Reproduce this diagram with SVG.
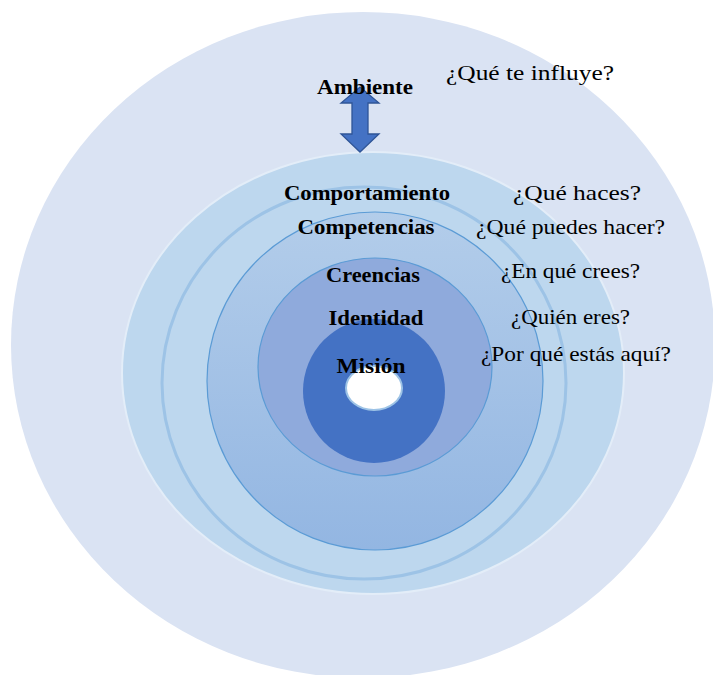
<svg xmlns="http://www.w3.org/2000/svg" width="713" height="675" viewBox="0 0 713 675">
<style>
.lbl{font-family:"Liberation Serif","Times New Roman",serif;font-weight:bold;font-size:20px;fill:#000;text-anchor:middle}
.q{font-family:"Liberation Serif","Times New Roman",serif;font-size:21px;fill:#000}
</style>
<defs>
<linearGradient id="g4" x1="0" y1="0" x2="0" y2="1">
<stop offset="0" stop-color="#B3CDEA"/>
<stop offset="1" stop-color="#93B6E2"/>
</linearGradient>
</defs>
<rect width="713" height="675" fill="#fff"/>
<g id="ambiente">
<ellipse cx="363" cy="345" rx="352" ry="333" fill="#DAE3F3"/>
</g>
<g id="comportamiento">
<ellipse cx="373" cy="373" rx="251" ry="221" fill="#BDD7EE" stroke="#E3EDF8" stroke-width="2"/>
</g>
<g id="competencias-ring">
<ellipse cx="364" cy="383" rx="202" ry="196" fill="#BDD7EE" stroke="#9DC3E6" stroke-width="3"/>
</g>
<g id="competencias">
<ellipse cx="375" cy="381" rx="168" ry="169" fill="url(#g4)" stroke="#5B9BD5" stroke-width="1.2"/>
</g>
<g id="creencias">
<ellipse cx="375" cy="367" rx="117" ry="109" fill="#8FAADC" stroke="#5B9BD5" stroke-width="1.2"/>
</g>
<g id="identidad">
<ellipse cx="374" cy="391" rx="71" ry="72" fill="#4472C4"/>
</g>
<g id="mision">
<ellipse cx="374" cy="388" rx="28" ry="22" fill="#fff" stroke="#9DC3E6" stroke-width="2"/>
</g>
<g id="connectors">
<polygon points="360,87 379,103 368,103 368,134 379,134 360,152 341,134 352,134 352,103 341,103" fill="#4472C4" stroke="#2F5597" stroke-width="1.3" stroke-linejoin="miter"/>
</g>
<g id="labels">
<text class="lbl" x="365" y="94" textLength="96" lengthAdjust="spacingAndGlyphs">Ambiente</text>
<text class="lbl" x="367" y="200" textLength="166" lengthAdjust="spacingAndGlyphs">Comportamiento</text>
<text class="lbl" x="366" y="234" textLength="137" lengthAdjust="spacingAndGlyphs">Competencias</text>
<text class="lbl" x="373" y="282" textLength="94" lengthAdjust="spacingAndGlyphs">Creencias</text>
<text class="lbl" x="376" y="325" textLength="95" lengthAdjust="spacingAndGlyphs">Identidad</text>
<text class="lbl" x="371" y="373" textLength="69" lengthAdjust="spacingAndGlyphs">Misión</text>
<text class="q" x="446" y="80" textLength="168" lengthAdjust="spacingAndGlyphs">¿Qué te influye?</text>
<text class="q" x="513" y="200" textLength="128" lengthAdjust="spacingAndGlyphs">¿Qué haces?</text>
<text class="q" x="476" y="234" textLength="189" lengthAdjust="spacingAndGlyphs">¿Qué puedes hacer?</text>
<text class="q" x="501" y="278" textLength="139" lengthAdjust="spacingAndGlyphs">¿En qué crees?</text>
<text class="q" x="511" y="324" textLength="119" lengthAdjust="spacingAndGlyphs">¿Quién eres?</text>
<text class="q" x="481" y="361" textLength="190" lengthAdjust="spacingAndGlyphs">¿Por qué estás aquí?</text>
</g>
</svg>
